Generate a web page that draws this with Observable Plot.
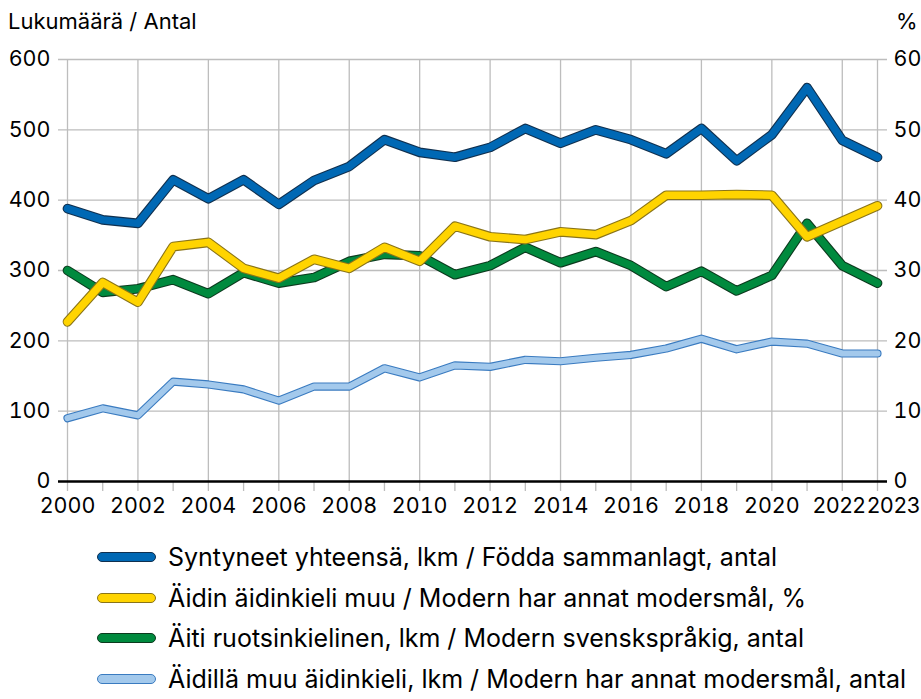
<!DOCTYPE html>
<html>
<head>
<meta charset="utf-8">
<script src="https://cdn.jsdelivr.net/npm/d3@7"></script>
<script src="https://cdn.jsdelivr.net/npm/@observablehq/plot@0.6"></script>
<style>
  html, body { margin: 0; padding: 0; background: #fff; }
  #wrap { position: relative; width: 921px; height: 699px; font-family: Inter, "Liberation Sans", sans-serif; color: #000; overflow: hidden; }
  .ttl { position: absolute; top: 7px; font-size: 22px; line-height: 28px; white-space: nowrap; }
  #chart { position: absolute; left: 0; top: 0; }
  #legend { position: absolute; left: 97px; top: 537px; }
  .item { display: flex; align-items: center; height: 40.5px; font-size: 25px; white-space: nowrap; }
  .sw { width: 57px; height: 8px; border-radius: 6px; border: 1.5px solid; margin-right: 12px; flex: none; }
</style>
</head>
<body>
<div id="wrap">
  <div class="ttl" style="left:8px">Lukumäärä / Antal</div>
  <div class="ttl" style="left:896px">%</div>
  <div id="chart"></div>
  <div id="legend"></div>
</div>
<script>
const years = d3.range(2000, 2024);
const total = [388, 372, 367, 429, 402, 429, 394, 428, 448, 486, 468, 461, 475, 502, 481, 500, 486, 466, 502, 456, 493, 560, 485, 461];
const otherLangPct = [22.7, 28.3, 25.5, 33.4, 34.0, 30.3, 28.9, 31.6, 30.3, 33.3, 31.3, 36.3, 34.8, 34.4, 35.5, 35.1, 37.1, 40.7, 40.7, 40.8, 40.7, 34.8, 37.0, 39.2];
const swedish = [300, 269, 274, 287, 267, 297, 282, 290, 313, 323, 321, 294, 307, 333, 311, 327, 307, 277, 299, 271, 293, 367, 307, 282];
const otherLang = [90, 104, 94, 142, 138, 131, 115, 135, 135, 161, 148, 165, 163, 173, 171, 176, 180, 189, 203, 188, 199, 196, 182, 182];

const yTicks = [0, 100, 200, 300, 400, 500, 600];
const xLabelTicks = [2000, 2002, 2004, 2006, 2008, 2010, 2012, 2014, 2016, 2018, 2020, 2022, 2023];

const series = [
  {name: "Syntyneet yhteensä, lkm / Födda sammanlagt, antal", values: total, scale: 1, color: "#0068b4", edge: "#10304f", w: 7.5},
  {name: "Äidin äidinkieli muu / Modern har annat modersmål, %", values: otherLangPct, scale: 10, color: "#ffd400", edge: "#8a7418", w: 7.5},
  {name: "Äiti ruotsinkielinen, lkm / Modern svenskspråkig, antal", values: swedish, scale: 1, color: "#008a3e", edge: "#0c3a1e", w: 7.5},
  {name: "Äidillä muu äidinkieli, lkm / Modern har annat modersmål, antal", values: otherLang, scale: 1, color: "#a3c9ec", edge: "#3a7bc0", w: 6}
];
const drawOrder = [3, 0, 2, 1];

const lineMarks = [];
for (const i of drawOrder) {
  const s = series[i];
  const data = years.map((yr, k) => ({year: yr, v: s.values[k] * s.scale}));
  lineMarks.push(Plot.line(data, {x: "year", y: "v", stroke: s.edge, strokeWidth: s.w + 2.2, strokeLinejoin: "round", strokeLinecap: "round"}));
  lineMarks.push(Plot.line(data, {x: "year", y: "v", stroke: s.color, strokeWidth: s.w, strokeLinejoin: "round", strokeLinecap: "round"}));
}

const mainLabels = xLabelTicks.slice(0, -2);
const chart = Plot.plot({
  width: 921,
  height: 525,
  marginTop: 59,
  marginBottom: 44,
  marginLeft: 67,
  marginRight: 44,
  style: {fontFamily: "Inter, 'Liberation Sans', sans-serif", fontSize: "21.5px", color: "#000", background: "transparent", overflow: "visible"},
  x: {domain: [2000, 2023], axis: null, label: null},
  y: {domain: [0, 600], axis: null, label: null},
  marks: [
    Plot.ruleX(xLabelTicks, {stroke: "#bdbdbd", strokeWidth: 1.3}),
    Plot.ruleY(yTicks.filter(d => d > 0), {stroke: "#bdbdbd", strokeWidth: 1.3, insetLeft: -9, insetRight: -10}),
    Plot.axisX({ticks: years, tickSize: 10, tickFormat: () => "", stroke: "#bdbdbd", strokeWidth: 1.3, label: null}),
    Plot.axisX({ticks: mainLabels, tickSize: 0, tickPadding: 16, tickFormat: d => String(d), fill: "#000", label: null}),
    Plot.text(xLabelTicks.slice(-2, -1), {x: d => d, text: d => String(d), frameAnchor: "bottom", lineAnchor: "top", dy: 16, dx: -3, fill: "#000"}),
    Plot.text(xLabelTicks.slice(-1), {x: d => d, text: d => String(d), frameAnchor: "bottom", lineAnchor: "top", dy: 16, dx: 16, fill: "#000"}),
    Plot.axisY({anchor: "left", ticks: yTicks, tickSize: 0, tickPadding: 17, tickFormat: d => String(d), label: null}),
    Plot.axisY({anchor: "right", ticks: yTicks, tickSize: 0, tickPadding: 16, tickFormat: d => String(d / 10), textAnchor: "start", label: null}),
    Plot.ruleY([0], {stroke: "#000", strokeWidth: 2.6, insetLeft: -9, insetRight: -10}),
    ...lineMarks
  ]
});
document.getElementById("chart").appendChild(chart);

const legend = document.getElementById("legend");
for (const s of series) {
  const row = document.createElement("div");
  row.className = "item";
  const sw = document.createElement("span");
  sw.className = "sw";
  sw.style.background = s.color;
  sw.style.borderColor = s.edge;
  const tx = document.createElement("span");
  tx.textContent = s.name;
  row.appendChild(sw);
  row.appendChild(tx);
  legend.appendChild(row);
}
</script>
</body>
</html>
